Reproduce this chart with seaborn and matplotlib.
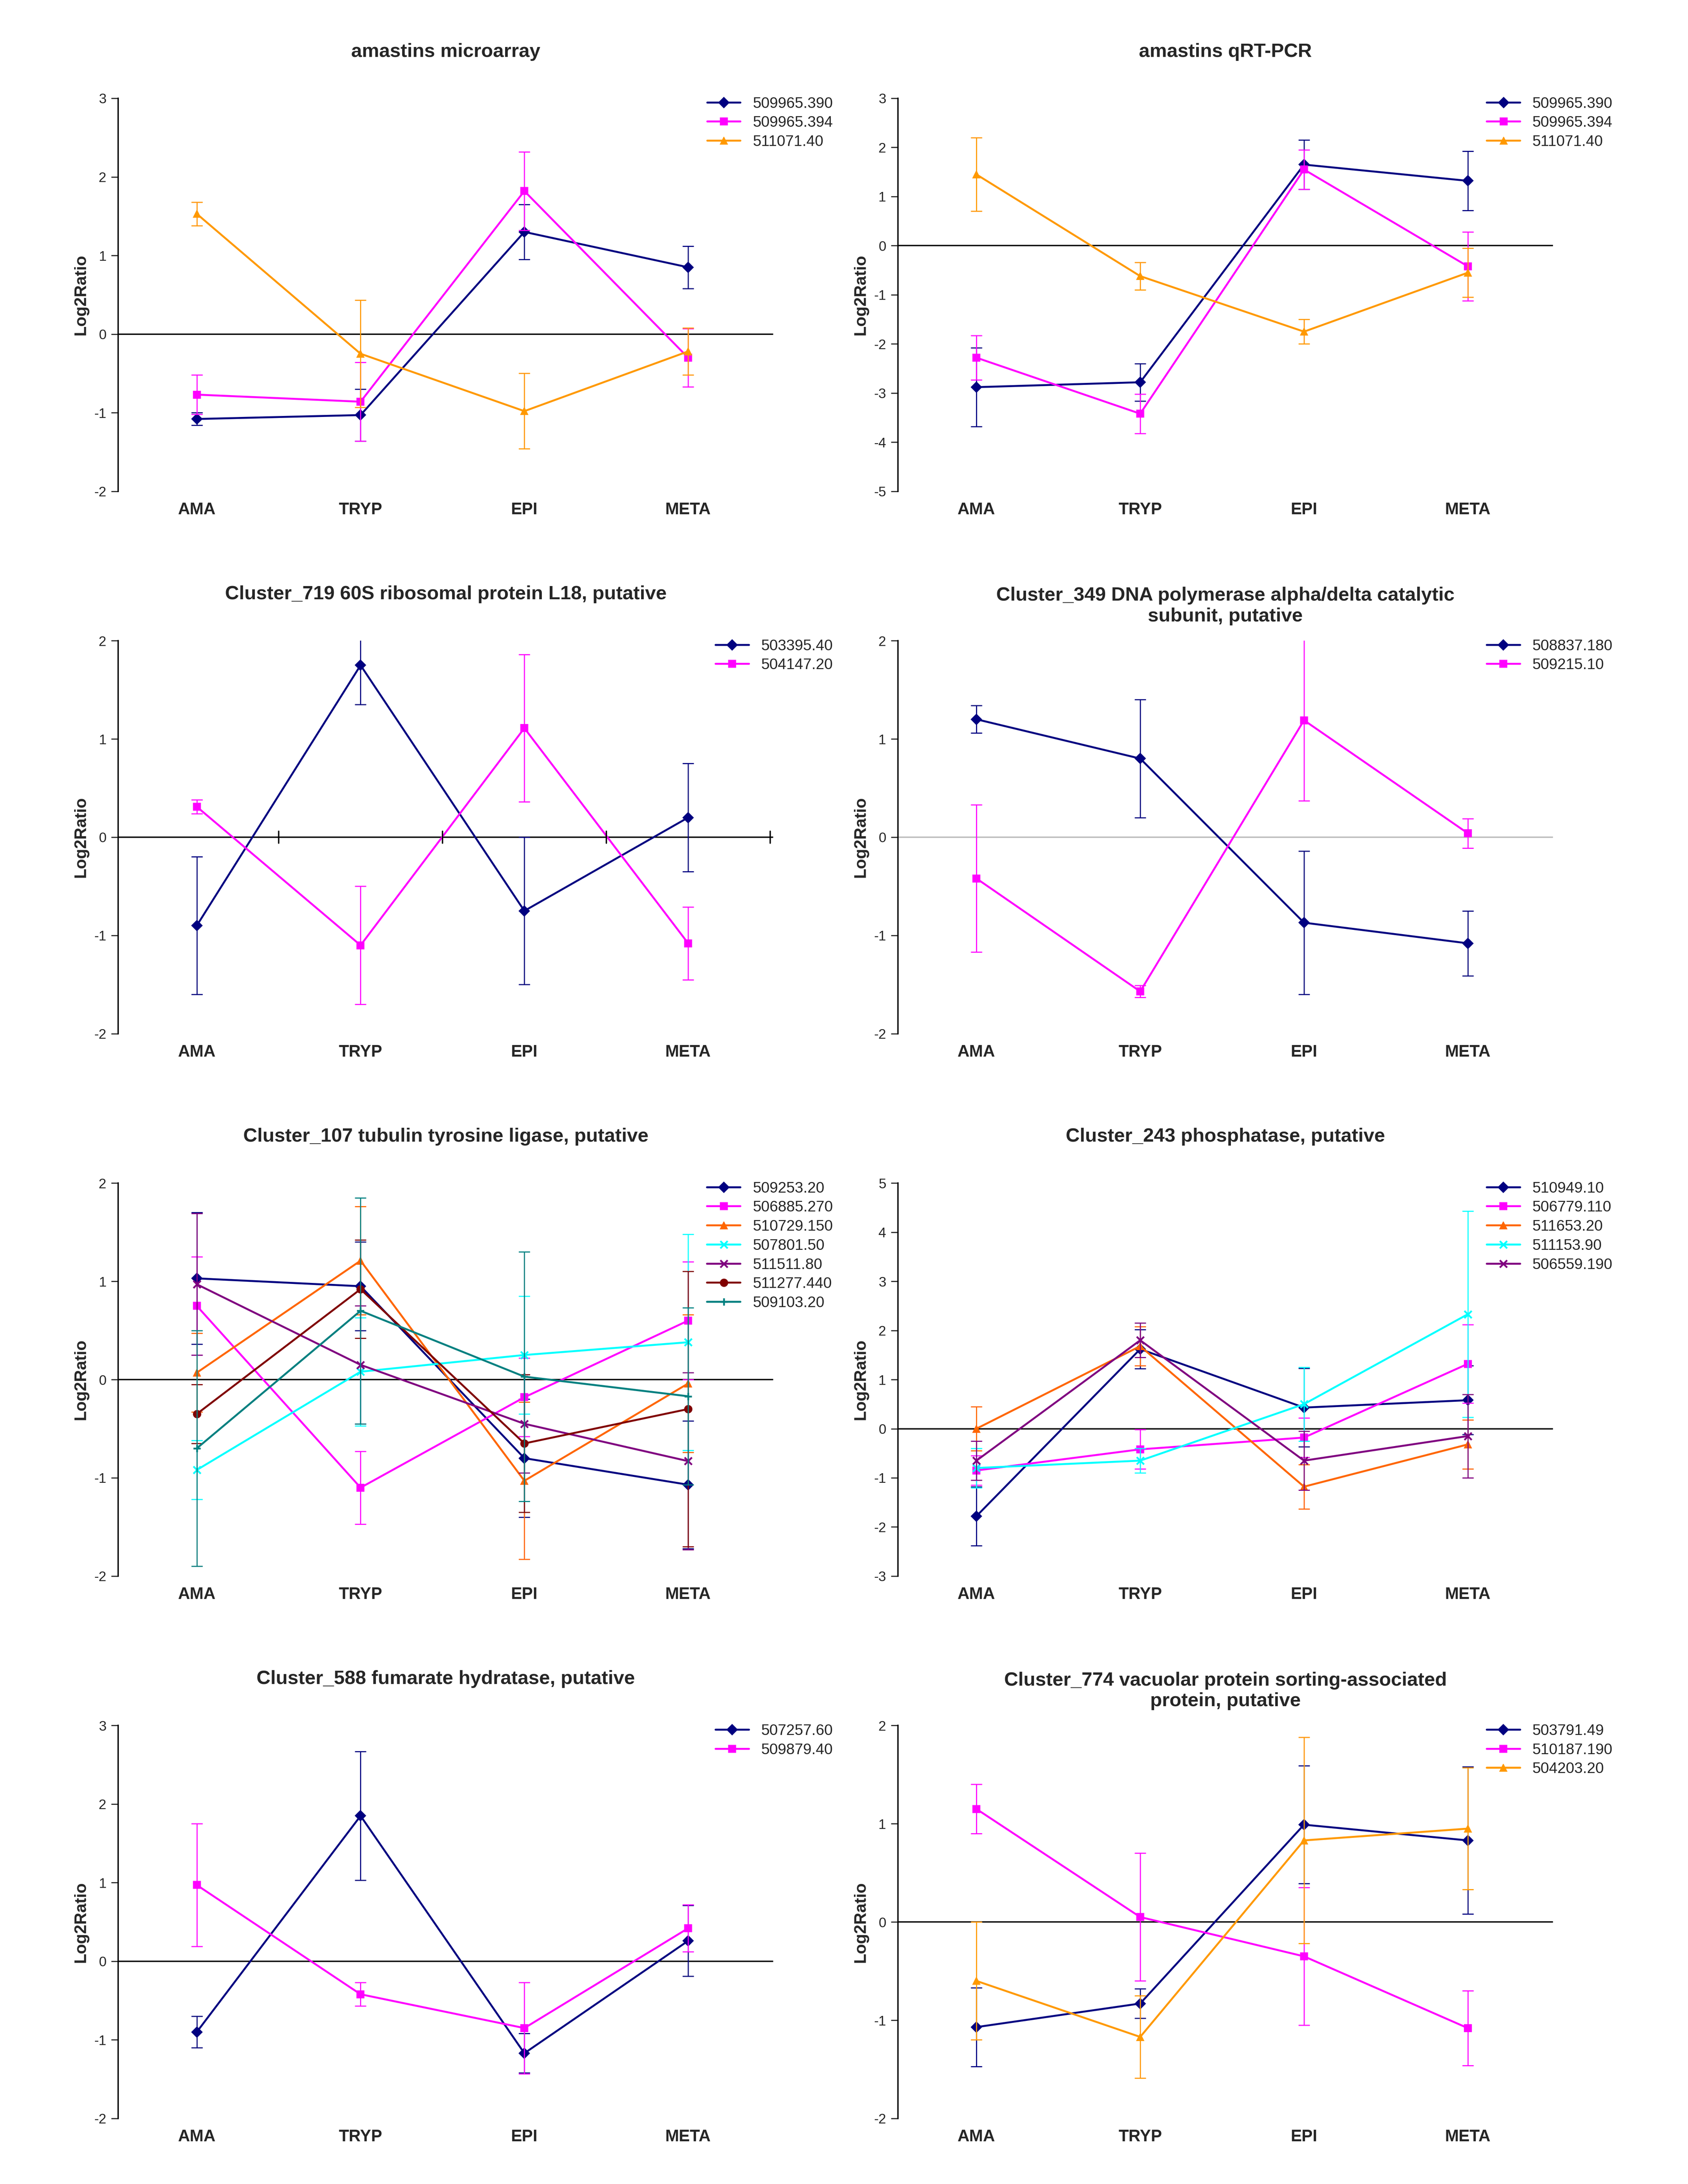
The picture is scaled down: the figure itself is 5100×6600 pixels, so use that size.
import numpy as np
import pandas as pd
import matplotlib
matplotlib.use('Agg')
import matplotlib.pyplot as plt
import seaborn as sns

sns.set_style('white')
plt.rcParams['font.family'] = ['Liberation Sans', 'DejaVu Sans']
plt.rcParams['axes.unicode_minus'] = False

stages = ['AMA', 'TRYP', 'EPI', 'META']

NAVY, MAG, ORA, CYAN, PURP, DRED, TEAL = '#000080', '#FF00FF', '#FF6600', '#00FFFF', '#800080', '#800000', '#008080'
ORA2 = '#FF9900'

# each panel: title, ylim, series (label, values, errors, colour, marker)
amast_micro = [
    ('509965.390', [-1.08, -1.03, 1.30, 0.85], [0.08, 0.33, 0.35, 0.27], NAVY, 'D'),
    ('509965.394', [-0.77, -0.86, 1.82, -0.30], [0.25, 0.50, 0.50, 0.37], MAG, 's'),
    ('511071.40', [1.53, -0.25, -0.98, -0.22], [0.15, 0.68, 0.48, 0.30], ORA2, '^'),
]
amast_qpcr = [
    ('509965.390', [-2.88, -2.78, 1.65, 1.32], [0.80, 0.38, 0.50, 0.60], NAVY, 'D'),
    ('509965.394', [-2.28, -3.42, 1.55, -0.42], [0.45, 0.40, 0.40, 0.70], MAG, 's'),
    ('511071.40', [1.45, -0.62, -1.75, -0.55], [0.75, 0.28, 0.25, 0.50], ORA2, '^'),
]
c719 = [
    ('503395.40', [-0.90, 1.75, -0.75, 0.20], [0.70, 0.40, 0.75, 0.55], NAVY, 'D'),
    ('504147.20', [0.31, -1.10, 1.11, -1.08], [0.07, 0.60, 0.75, 0.37], MAG, 's'),
]
c349 = [
    ('508837.180', [1.20, 0.80, -0.87, -1.08], [0.14, 0.60, 0.73, 0.33], NAVY, 'D'),
    ('509215.10', [-0.42, -1.57, 1.19, 0.04], [0.75, 0.06, 0.82, 0.15], MAG, 's'),
]
c107 = [
    ('509253.20', [1.03, 0.95, -0.80, -1.07], [0.67, 0.45, 0.60, 0.65], NAVY, 'D'),
    ('506885.270', [0.75, -1.10, -0.18, 0.60], [0.50, 0.37, 0.40, 0.60], MAG, 's'),
    ('510729.150', [0.07, 1.21, -1.03, -0.04], [0.40, 0.55, 0.80, 0.70], ORA, '^'),
    ('507801.50', [-0.92, 0.08, 0.25, 0.38], [0.30, 0.55, 0.60, 1.10], CYAN, 'x'),
    ('511511.80', [0.97, 0.15, -0.45, -0.83], [0.72, 0.60, 0.50, 0.90], PURP, 'x'),
    ('511277.440', [-0.35, 0.92, -0.65, -0.30], [0.30, 0.50, 0.70, 1.40], DRED, 'o'),
    ('509103.20', [-0.70, 0.70, 0.03, -0.17], [1.20, 1.15, 1.27, 0.90], TEAL, '+'),
]
c243 = [
    ('510949.10', [-1.78, 1.62, 0.43, 0.58], [0.60, 0.40, 0.80, 0.70], NAVY, 'D'),
    ('506779.110', [-0.85, -0.42, -0.18, 1.32], [0.30, 0.40, 0.40, 0.80], MAG, 's'),
    ('511653.20', [0.00, 1.68, -1.18, -0.32], [0.45, 0.40, 0.45, 0.50], ORA, '^'),
    ('511153.90', [-0.80, -0.65, 0.50, 2.33], [0.40, 0.25, 0.75, 2.10], CYAN, 'x'),
    ('506559.190', [-0.65, 1.80, -0.65, -0.15], [0.40, 0.35, 0.60, 0.85], PURP, 'x'),
]
c588 = [
    ('507257.60', [-0.90, 1.85, -1.17, 0.26], [0.20, 0.82, 0.25, 0.45], NAVY, 'D'),
    ('509879.40', [0.97, -0.42, -0.85, 0.42], [0.78, 0.15, 0.58, 0.30], MAG, 's'),
]
c774 = [
    ('503791.49', [-1.07, -0.83, 0.99, 0.83], [0.40, 0.15, 0.60, 0.75], NAVY, 'D'),
    ('510187.190', [1.15, 0.05, -0.35, -1.08], [0.25, 0.65, 0.70, 0.38], MAG, 's'),
    ('504203.20', [-0.60, -1.17, 0.83, 0.95], [0.60, 0.42, 1.05, 0.62], ORA2, '^'),
]

panels = [
    ('amastins microarray', (-2, 3), amast_micro, 'black', False),
    ('amastins qRT-PCR', (-5, 3), amast_qpcr, 'black', False),
    ('Cluster_719 60S ribosomal protein L18, putative', (-2, 2), c719, 'black', True),
    ('Cluster_349 DNA polymerase alpha/delta catalytic\nsubunit, putative', (-2, 2), c349, '#BBBBBB', False),
    ('Cluster_107 tubulin tyrosine ligase, putative', (-2, 2), c107, 'black', False),
    ('Cluster_243 phosphatase, putative', (-3, 5), c243, 'black', False),
    ('Cluster_588 fumarate hydratase, putative', (-2, 3), c588, 'black', False),
    ('Cluster_774 vacuolar protein sorting-associated\nprotein, putative', (-2, 2), c774, 'black', False),
]

fig, axes = plt.subplots(4, 2, figsize=(17, 22), dpi=300)
fig.subplots_adjust(left=0.07, right=0.92, top=0.955, bottom=0.03, wspace=0.19, hspace=0.38)

for ax, (title, ylim, series, zc, ticked) in zip(axes.flat, panels):
    x = np.arange(len(stages))
    for lab, vals, errs, col, mk in series:
        df = pd.DataFrame({'stage': x, 'val': vals})
        ax.errorbar(x, vals, yerr=errs, fmt='none', ecolor=col, elinewidth=0.8, capsize=4, capthick=0.8)
        sns.lineplot(data=df, x='stage', y='val', ax=ax, color=col, marker=mk, markersize=5.5,
                     markeredgecolor=col, markeredgewidth=1.3 if mk in 'x+' else 0.5,
                     linewidth=1.4, label=lab)
    ax.axhline(0, color=zc, lw=1.0, zorder=0)
    if ticked:
        for xt in [0.5, 1.5, 2.5, 3.5]:
            ax.plot([xt, xt], [-0.06, 0.06], color='black', lw=1.0)
    ax.set_xlim(-0.48, 3.52)
    ax.set_ylim(*ylim)
    ax.set_yticks(np.arange(ylim[0], ylim[1] + 1))
    ax.set_xticks(x)
    ax.set_xticklabels(stages, fontweight='bold', fontsize=12)
    ax.tick_params(axis='x', length=0, pad=8)
    ax.tick_params(axis='y', left=True, length=5, labelsize=10)
    for s in ['top', 'right', 'bottom']:
        ax.spines[s].set_visible(False)
    ax.spines['left'].set_linewidth(1.0)
    ax.spines['left'].set_color('black')
    ax.set_xlabel('')
    ax.set_ylabel('Log2Ratio', fontweight='bold', fontsize=12)
    ax.set_title(title, fontweight='bold', fontsize=14, pad=30 if '\n' not in title else 14)
    ax.legend(loc='upper right', bbox_to_anchor=(1.1, 1.02), frameon=False, fontsize=11,
              handlelength=2.2, borderaxespad=0, labelspacing=0.3)

fig.savefig('out.png', dpi=300, facecolor='white')
